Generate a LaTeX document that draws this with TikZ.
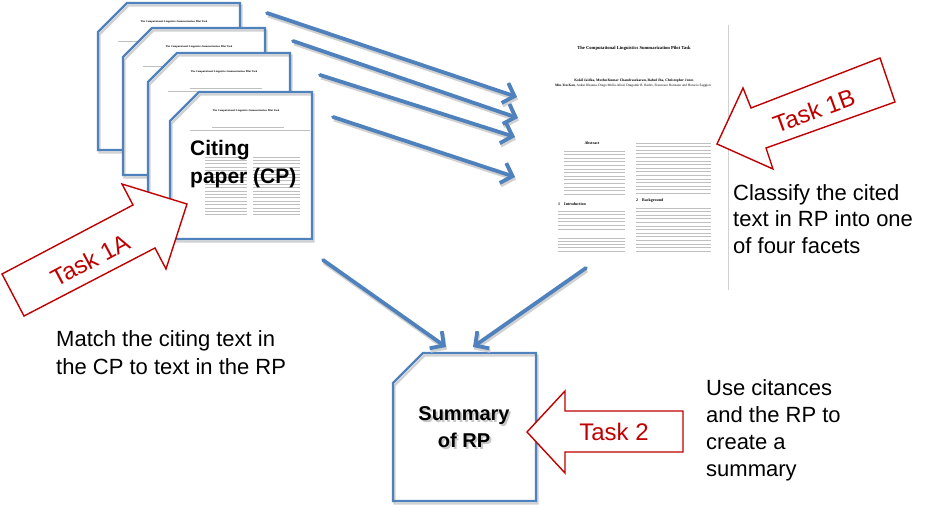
\documentclass[tikz,border=0pt]{standalone}
\usepackage{fontspec}
\setmainfont{Liberation Sans}
\newfontfamily\paperfont{Liberation Serif}
\usetikzlibrary{arrows.meta}
\definecolor{docblue}{RGB}{79,129,189}
\definecolor{taskred}{RGB}{192,0,0}
\tikzset{
    % blue page outlines with a grey shadow
    pagebox/.style={draw=docblue, line width=2.2pt,
        preaction={fill=white},
        preaction={draw=black!18, line width=2.2pt, transform canvas={xshift=1.5pt,yshift=-2.5pt}}},
    % blue arrows between the documents
    myarr/.style={-{Straight Barb[length=10pt,width=21pt]}, draw=docblue, line width=3.8pt, line cap=round,
        preaction={draw=black!18, line width=3.8pt, transform canvas={xshift=1pt,yshift=-2.5pt}}},
    % red block arrows for the tasks
    taskarr/.style={draw=taskred, line width=1.4pt, fill=white, line join=miter},
    tasklab/.style={text=taskred, font=\fontsize{24}{24}\selectfont},
    mylab/.style={font=\fontsize{22}{28}\selectfont, align=left, inner sep=0pt, anchor=west},
    % tiny page content
    textline/.style={draw=black!25, line width=0.8pt},
    tinytitle/.style={font=\paperfont\bfseries\fontsize{2.7}{3}\selectfont, inner sep=0pt},
    tinyhead/.style={font=\paperfont\bfseries\fontsize{4}{5}\selectfont, inner sep=0pt},
}
\begin{document}
\begin{tikzpicture}[x=1pt,y=-1pt]
    \useasboundingbox (0,0) rectangle (940,507);

    % stack of citing papers
    \foreach \dx/\dy [count=\i] in {0/0,25/25,50/50,72/89}{
      \begin{scope}[shift={(\dx,\dy)}]
        \draw[pagebox] (98,32) -- (127,3) -- (240,3) -- (240,150) -- (98,150) -- cycle;
        \node[tinytitle] (t\i) at (174,22) {The Computational Linguistics Summarization Pilot Task};
        \draw[textline, line width=0.6pt] (140,38) -- (212,38);
        \draw[textline, line width=0.6pt] (118,41) -- (238,41);
        \foreach \y in {68,71.4,...,128}{
          \draw[textline] (133,\y) -- (175,\y);
          \draw[textline] (181,\y) -- (228,\y);
        }
      \end{scope}
    }
    \node[font=\bfseries\fontsize{21}{28}\selectfont, align=left, inner sep=0pt, anchor=west] (cp) at (190,164) {Citing\\paper (CP)};

    % reference paper
    \draw[black!18, line width=0.8pt] (728,25) -- (728,290);
    \node[font=\paperfont\bfseries\fontsize{4.6}{5}\selectfont, inner sep=0pt] (rptitle) at (634,48) {The Computational Linguistics Summarization Pilot Task};
    \node[font=\paperfont\bfseries\fontsize{3.6}{4}\selectfont, inner sep=0pt] (auth1) at (634,81) {Kokil Jaidka, Muthu Kumar Chandrasekaran, Rahul Jha, Christopher Jones};
    \node[font=\paperfont\fontsize{3.4}{4}\selectfont, inner sep=0pt] (auth2) at (633,86) {\textbf{Min-Yen Kan}, Ankur Khanna, Diego Molla-Aliod, Dragomir R. Radev, Francesco Ronzano and Horacio Saggion};
    \node[tinyhead] (abs) at (592,143) {Abstract};
    \node[tinyhead, anchor=west] (intro) at (558,204) {1\quad Introduction};
    \node[tinyhead, anchor=west] (backg) at (636,201) {2\quad Background};
    \foreach \y in {151,154.6,...,195} \draw[textline] (564,\y) -- (625,\y);
    \foreach \y in {211,214.6,...,231} \draw[textline] (558,\y) -- (625,\y);
    \foreach \y in {238,241.2,...,253} \draw[textline, line width=0.6pt] (558,\y) -- (625,\y);
    \foreach \y in {143,146.6,...,194} \draw[textline] (636,\y) -- (711,\y);
    \foreach \y in {208,211.6,...,253} \draw[textline] (636,\y) -- (711,\y);

    % summary
    \draw[pagebox] (393,383) -- (423,353) -- (536,353) -- (536,501) -- (393,501) -- cycle;
    \node[font=\bfseries\fontsize{20}{27}\selectfont, align=center, text=black!22] (sumshadow) at (466,429.5) {Summary\\of RP};
    \node[font=\bfseries\fontsize{20}{27}\selectfont, align=center] (summary) at (464,427) {Summary\\of RP};

    % ARROWS
    \coordinate (p1) at (267,13);  \coordinate (r1) at (517,97);
    \coordinate (p2) at (293,41);  \coordinate (r2) at (518,118);
    \coordinate (p3) at (320,75);  \coordinate (r3) at (515,137);
    \coordinate (p4) at (333,117); \coordinate (r4) at (515,177);
    \coordinate (cpout) at (323,260); \coordinate (rpout) at (586,268);
    \coordinate (sl) at (446,347);  \coordinate (sr) at (473,347);
    \draw[myarr] (p1) -- (r1);
    \draw[myarr] (p2) -- (r2);
    \draw[myarr] (p3) -- (r3);
    \draw[myarr] (p4) -- (r4);
    \draw[myarr] (cpout) -- (sl);
    \draw[myarr] (rpout) -- (sr);

    % tasks
    \draw[taskarr] (2,274) -- (133,205) -- (122,184) -- (187,204) -- (166,269) -- (155,248) -- (24,316) -- cycle;
    \node[tasklab, rotate=28] (task1a) at (90,260) {Task 1A};
    \draw[taskarr] (717,144) -- (743,88) -- (751,108) -- (880,58) -- (895,102) -- (766,148) -- (773,169) -- cycle;
    \node[tasklab, rotate=20] (task1b) at (814,111) {Task 1B};
    \draw[taskarr] (527,432) -- (565,391) -- (565,411) -- (683,411) -- (683,452) -- (565,452) -- (565,473) -- cycle;
    \node[tasklab] (task2) at (614,432) {Task 2};

    % descriptions
    \node[mylab] (match) at (56,353) {Match the citing text in\\the CP to text in the RP};
    \node[mylab, font=\fontsize{22}{26.5}\selectfont] (classify) at (733,219) {Classify the cited\\text in RP into one\\of four facets};
    \node[mylab, font=\fontsize{22}{27}\selectfont] (use) at (706,430) {Use citances\\and the RP to\\create a\\summary};

\end{tikzpicture}
\end{document}
